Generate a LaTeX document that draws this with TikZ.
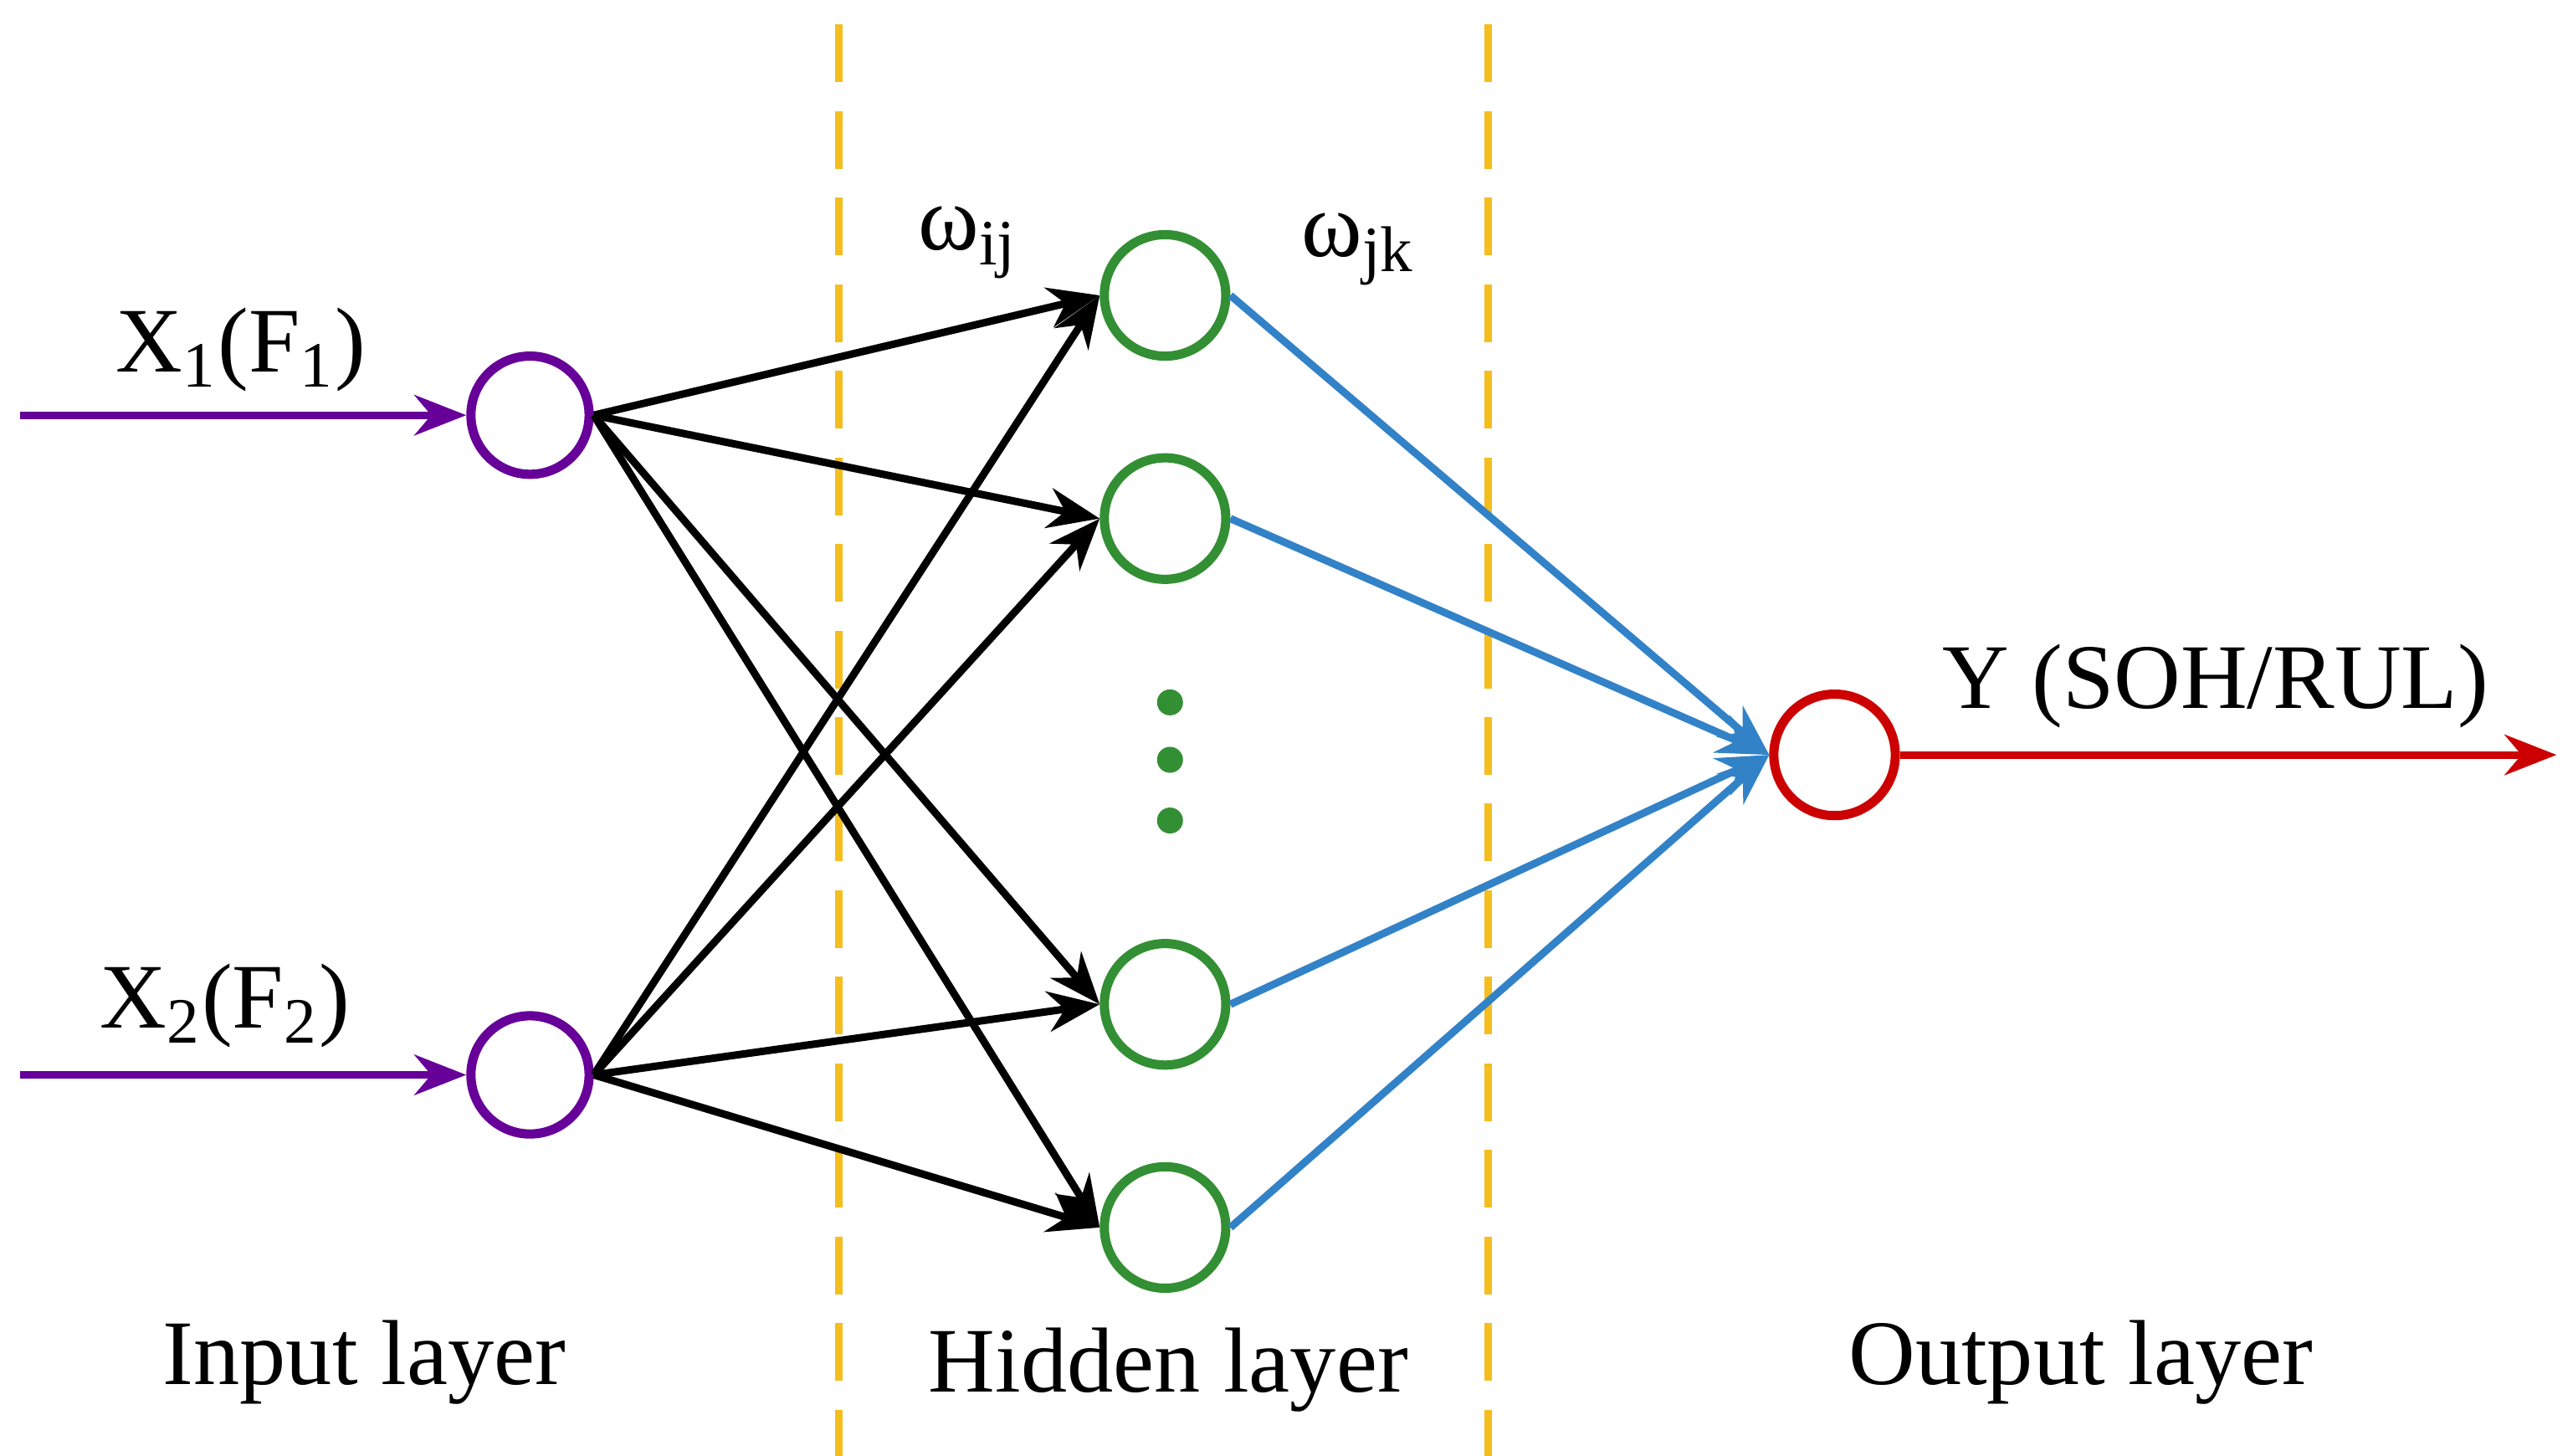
\documentclass[tikz,border=0pt]{standalone}
\usepackage{fontspec}
\setmainfont{Liberation Serif}
\usetikzlibrary{arrows.meta}
\definecolor{gold}{RGB}{245,190,30}
\definecolor{bl}{RGB}{50,130,200}
\begin{document}
\begin{tikzpicture}[x=0.01cm,y=-0.01cm,
  neuron/.style={circle,draw,line width=1.6pt,minimum size=0.72cm,inner sep=0pt},
  inp/.style={neuron,draw=violet!80!blue},
  hid/.style={neuron,draw=green!45!black!80,minimum size=0.74cm},
  outn/.style={neuron,draw=red!80!black,minimum size=0.74cm},
  arr/.style={-{Stealth[length=9pt,width=7pt]},line width=1.3pt},
  lbl/.style={font=\fontsize{16}{19}\selectfont}]
\useasboundingbox (0,0) rectangle (1568,887);
\draw[dash pattern=on 10pt off 5pt,line width=1.3pt,color=gold] (511,15) -- (511,887) (907,15) -- (907,887);
\node[inp] (i1) at (323,253) {};
\node[inp] (i2) at (323,655) {};
\node[hid] (h1) at (710,180) {};
\node[hid] (h2) at (710,316) {};
\node[hid] (h3) at (710,612) {};
\node[hid] (h4) at (710,748) {};
\node[outn] (o) at (1118,460) {};
\foreach \y/\n in {428/d1,463/d2,500/d3} \node[circle,fill=green!45!black!80,inner sep=0pt,minimum size=4.5pt] (\n) at (713,\y) {};
\coordinate (s1) at (12,253); \coordinate (s2) at (12,655); \coordinate (e) at (1558,460);
\draw[arr,violet!80!blue] (s1) -- (i1);
\draw[arr,violet!80!blue] (s2) -- (i2);
\draw[arr,red!80!black] (o) -- (e);
\foreach \i in {i1,i2} \foreach \h in {h1,h2,h3,h4} \draw[arr,black] (\i.east) -- (\h.west);
\foreach \h in {h1,h2,h3,h4} \draw[arr,bl] (\h.east) -- (o.west);
\node[lbl] (lx1) at (147,213) {X\textsubscript{1}(F\textsubscript{1})};
\node[lbl] (lx2) at (137,613) {X\textsubscript{2}(F\textsubscript{2})};
\node[lbl] (wij) at (590,148) {ω\textsubscript{ij}};
\node[lbl] (wjk) at (828,152) {ω\textsubscript{jk}};
\node[lbl] (ly) at (1350,418) {Y (SOH/RUL)};
\node[lbl] (l1) at (222,830) {Input layer};
\node[lbl] (l2) at (712,835) {Hidden layer};
\node[lbl] (l3) at (1268,830) {Output layer};
\end{tikzpicture}
\end{document}
